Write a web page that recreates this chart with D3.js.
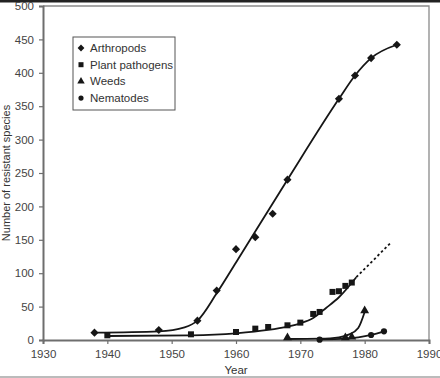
<!DOCTYPE html>
<html>
<head>
<meta charset="utf-8">
<script src="https://cdn.jsdelivr.net/npm/d3@7"></script>
<style>
  body { margin: 0; background: #fff; }
  svg { display: block; font-family: "Liberation Sans", Arial, sans-serif; }
</style>
</head>
<body>
<div id="chart"></div>
<script>
// observed points
var arthropods = [[1938, 11], [1948, 15], [1954, 29], [1957, 74], [1960, 136], [1963, 154],
                  [1965.7, 189], [1968, 240], [1976, 361], [1978.5, 396], [1981, 422], [1985, 442]];
var pathogens = [[1940, 7], [1953, 8.5], [1960, 12], [1963, 17], [1965, 19.5], [1968, 22], [1970, 26],
                 [1972, 39], [1973, 42], [1975, 72], [1976, 73], [1977, 81], [1978, 86]];
var weeds = [[1968, 3.5], [1977, 3.5], [1978, 4.5], [1980, 44]];
var nematodes = [[1973, 0.5], [1981, 7.5], [1983, 13]];

// fitted curves as drawn
var arthropodsFit = [[1938, 11], [1948, 13], [1952, 19], [1954, 29], [1957, 70], [1960, 116],
                     [1968, 240], [1976, 361], [1978.5, 396], [1981, 422], [1985, 442]];
var pathogensFit = [[1940, 6], [1953, 7], [1960, 10], [1965, 15], [1968, 20], [1970, 25],
                    [1972, 33], [1974, 48], [1976, 64], [1978.7, 94]];
var pathogensProj = [[1978.7, 94], [1984, 145]];
var weedsFit = [[1968, 1.5], [1973, 2], [1976, 4], [1977.5, 8], [1979, 18], [1980, 42]];
var nematodesFit = [[1973, 1], [1977, 2], [1979, 4], [1981, 7.5], [1983, 13]];

var xTicks = [1930, 1940, 1950, 1960, 1970, 1980, 1990];
var yTicks = [0, 50, 100, 150, 200, 250, 300, 350, 400, 450, 500];
var legendNames = ["Arthropods", "Plant pathogens", "Weeds", "Nematodes"];

var width = 440, height = 378;
var ink = "#161616", axisGray = "#6e6e6e";

var svg = d3.select("#chart").append("svg")
    .attr("width", width)
    .attr("height", height);

// scan border bits
svg.append("rect").attr("x", 0).attr("y", 0).attr("width", width).attr("height", 2.5).style("fill", "#222");
svg.append("rect").attr("x", 0).attr("y", 376).attr("width", width).attr("height", 2).style("fill", "#bbb");

var x = d3.scaleLinear().domain([1930, 1990]).range([43, 429]);
var y = d3.scaleLinear().domain([0, 500]).range([340, 6]);

// frame top/right
svg.append("path")
    .attr("d", "M" + x(1930) + "," + y(500) + "H" + x(1990) + "V" + y(0))
    .style("fill", "none").style("stroke", "#8a8a8a").style("stroke-width", 1.3);

var xAxis = svg.append("g")
    .attr("transform", "translate(0," + y(0) + ")")
    .call(d3.axisBottom(x).tickValues(xTicks).tickFormat(d3.format("d")).tickSize(4).tickPadding(6));
var yAxis = svg.append("g")
    .attr("transform", "translate(" + x(1930) + ",0)")
    .call(d3.axisLeft(y).tickValues(yTicks).tickSize(4).tickPadding(5));

[xAxis, yAxis].forEach(function(g) {
    g.select(".domain").style("stroke", axisGray).style("stroke-width", 2);
    g.selectAll(".tick line").style("stroke", axisGray).style("stroke-width", 1.2);
    g.selectAll(".tick text").style("fill", "#444").style("font-size", "11.5px")
     .style("font-family", "'Liberation Sans', Arial, sans-serif");
});

svg.append("text")
    .attr("x", (x(1930) + x(1990)) / 2).attr("y", 374)
    .attr("text-anchor", "middle")
    .style("font-size", "11.5px").style("fill", "#333")
    .text("Year");

svg.append("text")
    .attr("transform", "translate(10," + (y(0) + y(500)) / 2 + ") rotate(-90)")
    .attr("text-anchor", "middle")
    .style("font-size", "11px").style("fill", "#333")
    .text("Number of resistant species");

var line = d3.line()
    .x(function(d) { return x(d[0]); })
    .y(function(d) { return y(d[1]); })
    .curve(d3.curveMonotoneX);

[arthropodsFit, pathogensFit, weedsFit, nematodesFit].forEach(function(fit) {
    svg.append("path").datum(fit).attr("d", line)
       .style("fill", "none").style("stroke", ink).style("stroke-width", 1.8);
});
svg.append("path").datum(pathogensProj).attr("d", line)
   .style("fill", "none").style("stroke", ink).style("stroke-width", 1.8)
   .style("stroke-dasharray", "2.5,2.5");

var symbolTypes = [d3.symbolDiamond2, d3.symbolSquare, d3.symbolTriangle, d3.symbolCircle];
var symbolSizes = [42, 36, 34, 30];

[arthropods, pathogens, weeds, nematodes].forEach(function(series, i) {
    svg.selectAll(null)
       .data(series)
       .enter()
       .append("path")
       .attr("d", d3.symbol().type(symbolTypes[i]).size(symbolSizes[i]))
       .attr("transform", function(d) { return "translate(" + x(d[0]) + "," + y(d[1]) + ")"; })
       .style("fill", ink);
});

// legend
var legend = svg.append("g").attr("transform", "translate(73,37)");
legend.append("rect")
    .attr("width", 102).attr("height", 73)
    .style("fill", "#fff").style("stroke", "#555").style("stroke-width", 1);
legendNames.forEach(function(name, i) {
    var row = legend.append("g").attr("transform", "translate(8," + (11 + i * 16.7) + ")");
    row.append("path").attr("d", d3.symbol().type(symbolTypes[i]).size(symbolSizes[i] * 0.7))
       .style("fill", ink);
    row.append("text").attr("x", 9).attr("dy", "0.35em")
       .style("font-size", "11.5px").style("fill", "#333")
       .text(name);
});
</script>
</body>
</html>
